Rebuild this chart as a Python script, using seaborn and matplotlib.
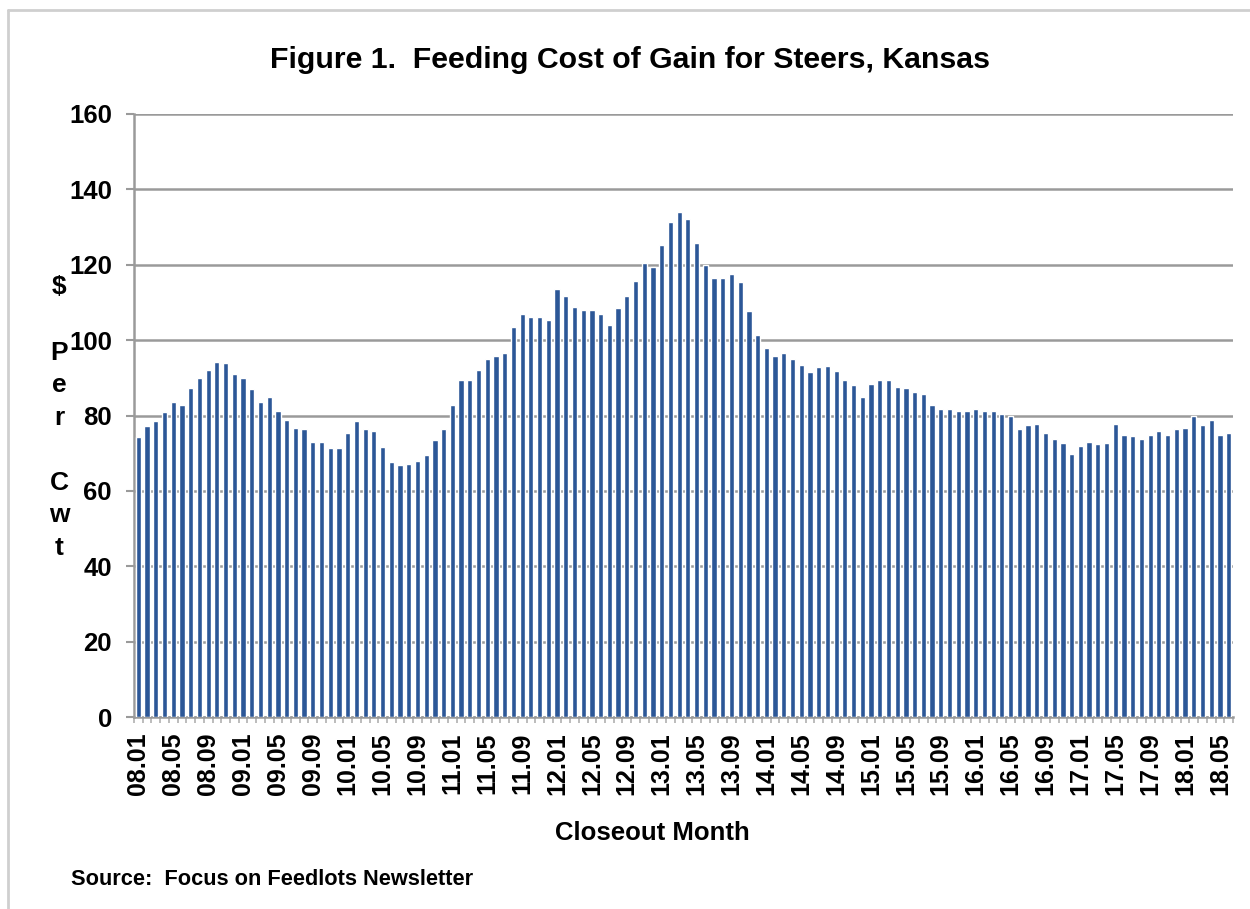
import numpy as np
import pandas as pd
import seaborn as sns
import matplotlib.pyplot as plt
from matplotlib.lines import Line2D
from matplotlib.ticker import FixedLocator

# closeout months 08.01 .. 18.06
years = ['08', '09', '10', '11', '12', '13', '14', '15', '16', '17', '18']
month_nums = ['01', '02', '03', '04', '05', '06', '07', '08', '09', '10', '11', '12']
n_bars = 126
months = [y + '.' + m for y in years for m in month_nums][:n_bars]

# $ per cwt
cost = [74.2, 77.1, 78.6, 80.8, 83.6, 82.7, 87.4, 89.9, 92.0, 94.2, 93.8, 91.0,
        89.9, 87.0, 83.6, 84.8, 81.3, 78.9, 76.7, 76.4, 73.0, 73.0, 71.3, 71.5,
        75.3, 78.5, 76.4, 75.9, 71.6, 67.6, 66.8, 67.2, 68.0, 69.4, 73.4, 76.4,
        82.9, 89.5, 89.5, 92.0, 95.0, 95.7, 96.7, 103.6, 106.9, 106.1, 106.1, 105.4,
        113.6, 111.6, 108.7, 108.1, 108.1, 107.0, 104.0, 108.4, 111.6, 115.8, 120.5, 119.3,
        125.2, 131.4, 134.0, 132.2, 125.7, 120.0, 116.5, 116.5, 117.5, 115.4, 107.8, 101.3,
        97.9, 95.7, 96.7, 95.0, 93.5, 91.6, 92.8, 93.2, 91.7, 89.5, 88.0, 84.8,
        88.3, 89.5, 89.5, 87.6, 87.3, 86.2, 85.8, 82.8, 81.8, 81.8, 81.1, 81.1,
        81.8, 81.1, 81.1, 80.5, 79.8, 76.4, 77.4, 77.7, 75.3, 73.8, 72.8, 69.8,
        72.0, 73.0, 72.4, 72.7, 77.8, 74.9, 74.6, 73.8, 74.9, 75.9, 74.9, 76.4,
        76.8, 79.9, 77.5, 78.9, 74.9, 75.3]

yticks = [0, 20, 40, 60, 80, 100, 120, 140, 160]
title = 'Figure 1.  Feeding Cost of Gain for Steers, Kansas'

sns.set_theme(style="white")
plt.rcParams['font.family'] = ['Liberation Sans', 'DejaVu Sans']
plt.rcParams['font.weight'] = 'bold'
plt.rcParams['text.color'] = 'black'
plt.rcParams['xtick.labelcolor'] = 'black'
plt.rcParams['ytick.labelcolor'] = 'black'

df = pd.DataFrame(dict(month=months, cost=cost))

fig = plt.figure(figsize=(12.5, 9.09), dpi=100)
ax = fig.add_axes([0.1072, 0.2112, 0.8792, 0.6634])

sns.barplot(data=df, x="month", y="cost", color="#2c5797", saturation=1,
            width=0.6, ax=ax, zorder=3)

grey = '#9a9a9a'
ax.set_ylim(0, 160)
ax.set_xlim(-0.5, n_bars - 0.5)
ax.set_yticks(yticks)
ax.yaxis.grid(True, color=grey, linewidth=1.8, zorder=0)
ax.set_axisbelow(True)
for s in ['top', 'right']:
    ax.spines[s].set_visible(False)
for s in ['left', 'bottom']:
    ax.spines[s].set_color(grey)
    ax.spines[s].set_linewidth(1.8)

ax.set_xticks(range(0, n_bars, 4))
ax.set_xticklabels(months[::4], rotation=90, fontsize=18, fontweight='bold')
ax.xaxis.set_minor_locator(FixedLocator(np.arange(-0.5, n_bars, 1)))
ax.tick_params(axis='x', which='major', length=0, pad=11)
ax.tick_params(axis='x', which='minor', length=4, width=1.2, color='#b0b0b0', bottom=True)
ax.tick_params(axis='y', which='major', length=6, width=1.5, color=grey, pad=10,
               labelsize=18.5, left=True)
for lab in ax.get_yticklabels():
    lab.set_fontweight('bold')
ax.set_xlabel('')
ax.set_ylabel('')

fig.text(0.504, 0.934, title, ha='center', va='center', fontsize=21.8, fontweight='bold')
fig.text(0.0475, 0.5405, '$\n\nP\ne\nr\n\nC\nw\nt', ha='center', va='center',
         multialignment='center', linespacing=1.45, fontsize=19, fontweight='bold')
fig.text(0.5216, 0.0836, 'Closeout Month', ha='center', va='center', fontsize=18.5,
         fontweight='bold')
fig.text(0.057, 0.033, 'Source:  Focus on Feedlots Newsletter', ha='left', va='center',
         fontsize=15.7, fontweight='bold')

# outer chart border
fig.add_artist(Line2D([8 / 1250, 8 / 1250], [0, 1 - 10 / 909], transform=fig.transFigure,
                      color='#cfcfcf', linewidth=2))
fig.add_artist(Line2D([8 / 1250, 1], [1 - 10 / 909, 1 - 10 / 909], transform=fig.transFigure,
                      color='#cfcfcf', linewidth=2))

fig.savefig('out.png', dpi=100)
